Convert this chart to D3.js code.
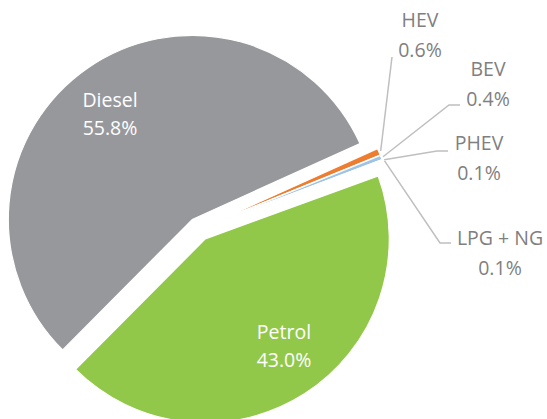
<!DOCTYPE html>
<html>
<head>
<meta charset="utf-8">
<script src="https://cdn.jsdelivr.net/npm/d3@7"></script>
<style>
  body { margin: 0; background: #fff; }
  svg text { font-family: "Open Sans", sans-serif; }
</style>
</head>
<body>
<svg id="chart" width="547" height="419"></svg>
<script>
// data
const categories = ["Petrol", "Diesel", "HEV", "BEV", "PHEV", "LPG + NG"];
const shares = [43.0, 55.8, 0.6, 0.4, 0.1, 0.1];
const shareLabels = ["43.0%", "55.8%", "0.6%", "0.4%", "0.1%", "0.1%"];

// styling
const colors = ["#92c84a", "#97989c", "#ed7d31", "#9dc3e6", "#ffc000", "#5b9bd5"];
const inside = [true, true, false, false, false, false];
// label anchors (text centre x, first baseline y) and leader bends
const labelPos = [[284, 339], [110, 107], [420, 27], [488, 76], [479, 150], [500, 245]];
const leaderPts = [null, null, [[392, 57]], [[449, 105], [460, 105]], [[437, 151], [448, 151]], [[440, 243], [451, 243]]];

const svg = d3.select("#chart"),
  cx = 199, cy = 229,
  radius = 184,
  explode = 11.7;

const g = svg.append("g").attr("transform", `translate(${cx},${cy})`);

const pie = d3.pie()
  .sort(null)
  .startAngle(70 * Math.PI / 180)
  .endAngle(70 * Math.PI / 180 + 2 * Math.PI);

const arcs = pie(shares);
const arc = d3.arc().innerRadius(0).outerRadius(radius);
const mid = d => (d.startAngle + d.endAngle) / 2;

g.selectAll("path.slice")
  .data(arcs)
  .join("path")
  .attr("class", "slice")
  .attr("fill", (d, i) => colors[i])
  .attr("stroke", "#fff")
  .attr("stroke-width", 1.2)
  .attr("transform", d => `translate(${Math.sin(mid(d)) * explode},${-Math.cos(mid(d)) * explode})`)
  .attr("d", arc);

// leader lines for the small slices
const lineGen = d3.line();
arcs.forEach((d, i) => {
  if (!leaderPts[i]) return;
  const r = radius + explode + 2;
  const start = [cx + Math.sin(mid(d)) * r, cy - Math.cos(mid(d)) * r];
  svg.append("path")
    .attr("d", lineGen([start, ...leaderPts[i]]))
    .attr("fill", "none")
    .attr("stroke", "#bfbfbf")
    .attr("stroke-width", 1.5);
});

// labels
categories.forEach((c, i) => {
  const t = svg.append("text")
    .attr("x", labelPos[i][0])
    .attr("y", labelPos[i][1])
    .attr("text-anchor", "middle")
    .attr("font-size", 19.5)
    .attr("fill", inside[i] ? "#fff" : "#7f7f7f");
  t.append("tspan").attr("x", labelPos[i][0]).text(c);
  t.append("tspan").attr("x", labelPos[i][0]).attr("dy", inside[i] ? 28 : 29.5).text(shareLabels[i]);
});
</script>
</body>
</html>
